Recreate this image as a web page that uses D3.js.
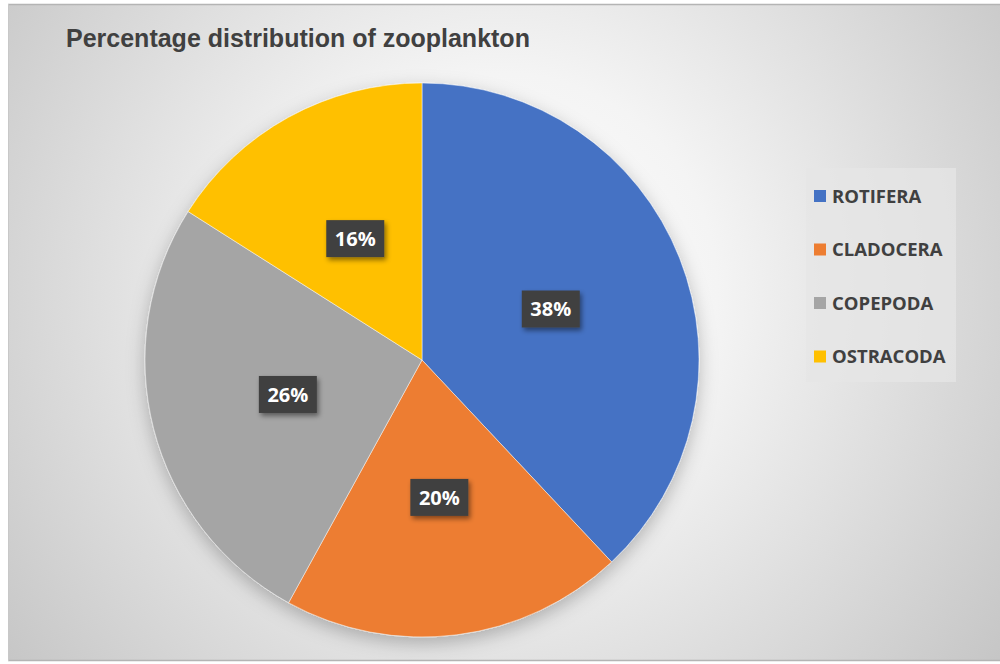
<!DOCTYPE html>
<html><head><meta charset="utf-8">
<script src="https://cdn.jsdelivr.net/npm/d3@7"></script>
<style>html,body{margin:0;padding:0;background:#fff;}svg{display:block;}</style>
</head><body>
<script>
const categories = ["ROTIFERA", "CLADOCERA", "COPEPODA", "OSTRACODA"];
const values = [38, 20, 26, 16];
const colors = ["#4472C4", "#ED7D31", "#A5A5A5", "#FFC000"];
const title = "Percentage distribution of zooplankton";

const W = 1000, H = 664;
const svg = d3.select("body").append("svg").attr("width", W).attr("height", H);
const defs = svg.append("defs");
const rg = defs.append("radialGradient").attr("id", "bg")
  .attr("gradientUnits", "userSpaceOnUse")
  .attr("cx", 500).attr("cy", 290).attr("r", 620);
rg.append("stop").attr("offset", "0").attr("stop-color", "#ffffff");
rg.append("stop").attr("offset", "0.35").attr("stop-color", "#f4f4f4");
rg.append("stop").attr("offset", "1").attr("stop-color", "#c6c6c6");

const sh = defs.append("filter").attr("id", "pieShadow").attr("x", "-20%").attr("y", "-20%").attr("width", "140%").attr("height", "140%");
sh.append("feDropShadow").attr("dx", 0).attr("dy", 6).attr("stdDeviation", 9).attr("flood-color", "#000").attr("flood-opacity", 0.25);
const ls = defs.append("filter").attr("id", "lblShadow").attr("x", "-30%").attr("y", "-30%").attr("width", "160%").attr("height", "160%");
ls.append("feDropShadow").attr("dx", 2).attr("dy", 3).attr("stdDeviation", 2.5).attr("flood-color", "#000").attr("flood-opacity", 0.45);

// frame
svg.append("rect").attr("x", 8).attr("y", 4).attr("width", W - 8).attr("height", 657)
  .attr("fill", "url(#bg)");
svg.append("line").attr("x1", 8).attr("x2", W).attr("y1", 4.5).attr("y2", 4.5).attr("stroke", "#b4b4b4").attr("stroke-width", 1.5);
svg.append("line").attr("x1", 8).attr("x2", W).attr("y1", 660.5).attr("y2", 660.5).attr("stroke", "#b4b4b4").attr("stroke-width", 1.5);
svg.append("line").attr("x1", 8.5).attr("x2", 8.5).attr("y1", 4).attr("y2", 661).attr("stroke", "#c8c8c8").attr("stroke-width", 1);

svg.append("text").attr("x", 66).attr("y", 47)
  .attr("font-family", "'Liberation Sans', Arial, sans-serif").attr("font-weight", "bold")
  .attr("font-size", 25).attr("fill", "#404040").text(title);

const cx = 422, cy = 360, R = 277;
const data = categories.map((c, i) => ({ name: c, value: values[i], color: colors[i] }));
const pie = d3.pie().value(d => d.value).sort(null);
const arc = d3.arc().innerRadius(0).outerRadius(R);
const g = svg.append("g").attr("transform", `translate(${cx},${cy})`);
const arcs = pie(data);
g.append("g").attr("filter", "url(#pieShadow)")
  .selectAll("path").data(arcs).join("path")
  .attr("d", arc).attr("fill", d => d.data.color)
  .attr("stroke", "#ffffff").attr("stroke-opacity", 0.6).attr("stroke-width", 0.8);

const total = d3.sum(values);
const lab = g.selectAll("g.lab").data(arcs).join("g").attr("class", "lab")
  .attr("transform", d => { const c = arc.centroid(d); return `translate(${c[0]},${c[1]})`; });
lab.append("rect").attr("x", -29).attr("y", -18.5).attr("width", 58).attr("height", 37)
  .attr("fill", "#404040").attr("filter", "url(#lblShadow)");
lab.append("text").attr("text-anchor", "middle").attr("dy", "0.36em")
  .attr("font-family", "'Open Sans', Lato, sans-serif").attr("font-weight", "bold")
  .attr("font-size", 20).attr("fill", "#ffffff")
  .text(d => Math.round(d.data.value / total * 100) + "%");

// legend
const leg = svg.append("g");
leg.append("rect").attr("x", 806).attr("y", 168).attr("width", 150).attr("height", 214).attr("fill", "#e6e6e6").attr("fill-opacity", 0.75);
const li = leg.selectAll("g.li").data(data).join("g").attr("class", "li")
  .attr("transform", (d, i) => `translate(814,${196 + i * 53.5})`);
li.append("rect").attr("x", 0).attr("y", -6).attr("width", 12).attr("height", 12).attr("fill", d => d.color);
li.append("text").attr("x", 18).attr("dy", "0.36em")
  .attr("font-family", "'Open Sans', Lato, sans-serif").attr("font-weight", "bold")
  .attr("font-size", 18.5).attr("fill", "#404040").text(d => d.name);
</script>
</body></html>
